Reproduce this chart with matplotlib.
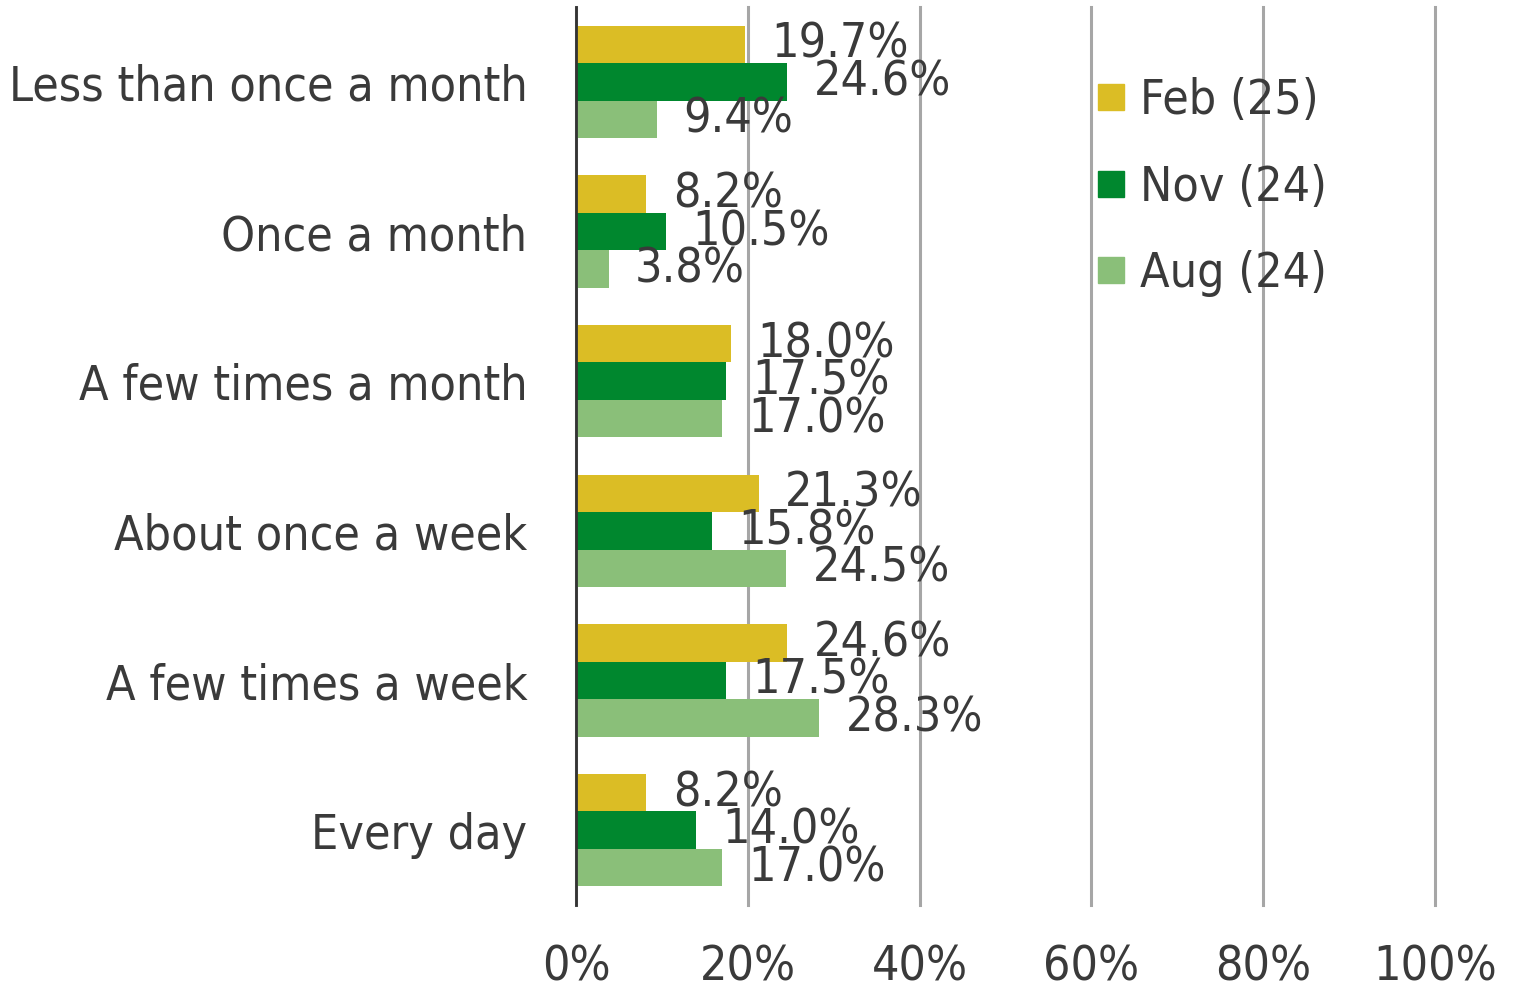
import matplotlib
matplotlib.use("Agg")
import matplotlib.pyplot as plt
import numpy as np
from matplotlib.lines import Line2D

categories = ["Less than once a month", "Once a month", "A few times a month",
              "About once a week", "A few times a week", "Every day"]
series_names = ["Feb (25)", "Nov (24)", "Aug (24)"]
feb = [19.7, 8.2, 18.0, 21.3, 24.6, 8.2]
nov = [24.6, 10.5, 17.5, 15.8, 17.5, 14.0]
aug = [9.4, 3.8, 17.0, 24.5, 28.3, 17.0]
xticks = [0, 20, 40, 60, 80, 100]
xtick_labels = ["0%", "20%", "40%", "60%", "80%", "100%"]

colors = ["#DBBD25", "#00872E", "#8ABF79"]
text_color = "#3A3A3A"

plt.rcParams["font.family"] = ["DejaVu Sans"]
plt.rcParams["font.stretch"] = "condensed"
FS = 34.7

fig = plt.figure(figsize=(15.16, 9.93), dpi=100)
ax = fig.add_axes([576/1516, 1-905/993, (1435-576)/1516, (905-7)/993])

y = np.arange(len(categories))
h = 0.25
for k, (vals, c) in enumerate(zip([feb, nov, aug], colors)):
    bars = ax.barh(y + (k-1)*h, vals, height=h, color=c, label=series_names[k], zorder=2)
    ax.bar_label(bars, labels=[f"{v:.1f}%" for v in vals], padding=19,
                 fontsize=FS, color=text_color, zorder=3)

ax.set_xlim(0, 100)
ax.set_ylim(len(categories)-0.5, -0.5)
ax.set_xticks(xticks)
ax.set_xticklabels(xtick_labels)
ax.set_yticks(y)
ax.set_yticklabels(categories)
ax.tick_params(axis="x", length=0, pad=28, labelsize=FS, labelcolor=text_color)
ax.tick_params(axis="y", length=0, pad=35, labelsize=FS, labelcolor=text_color)
ax.xaxis.grid(True, color="#A6A6A6", linewidth=2.2, zorder=0)
for gl in ax.get_xgridlines():
    gl.set_clip_on(False)
ax.set_axisbelow(True)
for s in ["top", "right", "bottom"]:
    ax.spines[s].set_visible(False)
ax.spines["left"].set_color("#333333")
ax.spines["left"].set_linewidth(2)
ax.spines["left"].set_zorder(4)

handles = [Line2D([], [], marker="s", linestyle="none", markersize=18.5,
                  markerfacecolor=c, markeredgecolor=c) for c in colors]
fig.legend(handles, series_names, loc="upper left",
           bbox_to_anchor=(1097/1516, 1-77/993), frameon=False,
           fontsize=FS, labelcolor=text_color, handlelength=0.6,
           handletextpad=0.3, labelspacing=0.82, borderpad=0, borderaxespad=0)

fig.savefig("out.png", dpi=100)
